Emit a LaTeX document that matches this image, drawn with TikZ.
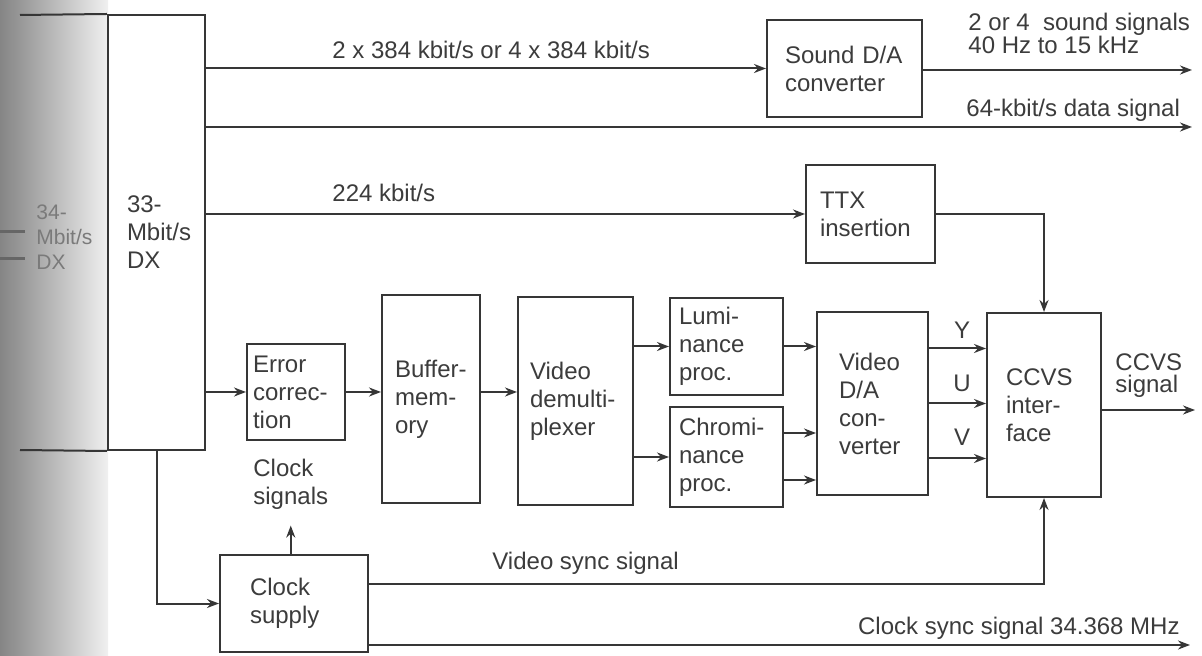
\documentclass[tikz,border=0pt]{standalone}
\usepackage{fontspec}
\setmainfont{Liberation Sans}
\usetikzlibrary{arrows.meta,calc}
\definecolor{ink}{HTML}{363636}
\definecolor{txt}{HTML}{3C3C3C}
\begin{document}
\begin{tikzpicture}[x=0.5pt,y=-0.5pt,
  blk/.style={draw=ink, line width=1pt, align=left, inner ysep=0pt, text=txt, font=\fontsize{12}{14}\selectfont},
  lbl/.style={inner sep=0pt, text=txt, font=\fontsize{12}{14}\selectfont},
  arr/.style={draw=ink, line width=1pt, -{Stealth[length=6pt,width=4.5pt]}},
  ln/.style={draw=ink, line width=1pt}]
\useasboundingbox (0,0) rectangle (1202,656);
\fill[white] (0,0) rectangle (1202,656);
\shade[left color=black!48, right color=black!6] (0,0) rectangle (108,656);

% faded neighbouring block
\node[lbl, text=black!52, anchor=west, align=left, font=\fontsize{10.5}{12.5}\selectfont] (dxold) at (36,237) {34-\\Mbit/s\\DX};
\draw[black!60, line width=1.5pt] (0,232) -- (25,232);
\draw[black!60, line width=1.5pt] (0,259) -- (25,259);

% blocks
\node[blk, minimum width=48.5pt, minimum height=217.5pt, text width=29.5pt, inner xsep=9.5pt] (dx) at (156.5,232.5) {33-\\Mbit/s\\DX};
\draw[ln] (20,15) -- (dx.north west);
\draw[ln] (20,450) -- (dx.south west);

\node[blk, minimum width=77.5pt, minimum height=48.5pt, text width=59.5pt, inner xsep=9pt] (sound) at (844.5,68.5) {Sound D/A\\converter};
\node[blk, minimum width=64.5pt, minimum height=49pt, text width=50.5pt, inner xsep=7pt] (ttx) at (870.5,214) {TTX\\insertion};
\node[blk, minimum width=49pt, minimum height=48pt, text width=43pt, inner xsep=3pt] (errc) at (296,392) {Error\\correc-\\tion};
\node[blk, minimum width=49pt, minimum height=104pt, text width=36pt, inner xsep=6.5pt] (buf) at (431,399) {Buffer-\\mem-\\ory};
\node[blk, minimum width=57.5pt, minimum height=104pt, text width=45.5pt, inner xsep=6pt] (demux) at (575.5,401) {Video\\demulti-\\plexer};
\node[blk, minimum width=56.5pt, minimum height=48.5pt, text width=47.5pt, inner xsep=4.5pt] (lum) at (726.5,346.5) {Lumi-\\nance\\proc.};
\node[blk, minimum width=56.5pt, minimum height=50pt, text width=47.5pt, inner xsep=4.5pt] (chrom) at (726.5,457) {Chromi-\\nance\\proc.};
\node[blk, minimum width=55.5pt, minimum height=91.5pt, text width=33.5pt, inner xsep=11pt] (vda) at (872.5,403.5) {Video\\D/A\\con-\\verter};
\node[blk, minimum width=57pt, minimum height=92pt, text width=38pt, inner xsep=9.5pt] (ccvs) at (1044,405) {CCVS\\inter-\\face};
\node[blk, minimum width=74pt, minimum height=48.5pt, text width=44pt, inner xsep=15pt] (clock) at (294,603.5) {Clock\\supply};

% labels
\node[lbl, anchor=west] (l384) at (332,50) {2 x 384 kbit/s or 4 x 384 kbit/s};
\node[lbl, anchor=west] (l224) at (332,193) {224 kbit/s};
\node[lbl, anchor=west, align=left] (lsnd) at (968,33.5) {2 or 4 \ sound signals\\[-2.5pt]40 Hz to 15 kHz};
\node[lbl, anchor=west] (ldata) at (966,110) {64-kbit/s data signal};
\node[lbl] (lY) at (962,330) {Y};
\node[lbl] (lU) at (962,383) {U};
\node[lbl] (lV) at (962,437) {V};
\node[lbl, anchor=west, align=left] (lccvs) at (1115,376) {CCVS\\[-3pt]signal};
\node[lbl, anchor=west, align=left] (clksig) at (253,484) {Clock\\signals};
\node[lbl, anchor=west] (lvsync) at (492,563) {Video sync signal};
\node[lbl, anchor=east] (lcsync) at (1180,628) {Clock sync signal 34.368 MHz};

% free ends
\coordinate (o1) at (1192,70);
\coordinate (o2) at (1192,127);
\coordinate (o3) at (1195,410);
\coordinate (o4) at (1190,645);

% connectors
\draw[arr] (dx.east |- sound.west) -- (sound.west);
\draw[arr] (sound.east |- o1) -- (o1);
\draw[arr] (dx.east |- o2) -- (o2);
\draw[arr] (dx.east |- ttx.west) -- (ttx.west);
\draw[arr] (ttx.east) -| (ccvs.north);
\draw[arr] (dx.east |- errc.west) -- (errc.west);
\draw[arr] (errc.east) -- (errc.east -| buf.west);
\draw[arr] (buf.east |- errc.east) -- (demux.west |- errc.east);
\draw[arr] (demux.east |- lum.west) -- (lum.west);
\draw[arr] (demux.east |- chrom.west) -- (chrom.west);
\draw[arr] (lum.east) -- (lum.east -| vda.west);
\path ($(chrom.east)+(0,-24)$) coordinate (ch1) ($(chrom.east)+(0,23)$) coordinate (ch2);
\draw[arr] (ch1) -- (ch1 -| vda.west);
\draw[arr] (ch2) -- (ch2 -| vda.west);
\path ($(vda.east)+(0,-55)$) coordinate (vy) ($(vda.east)+(0,0)$) coordinate (vu) ($(vda.east)+(0,55)$) coordinate (vv);
\draw[arr] (vy) -- (vy -| ccvs.west);
\draw[arr] (vu) -- (vu -| ccvs.west);
\draw[arr] (vv) -- (vv -| ccvs.west);
\draw[arr] (ccvs.east |- o3) -- (o3);
\draw[arr] (dx.south) |- (clock.west);
\draw[arr, shorten >=8pt] (clksig.south |- clock.north) -- (clksig.south);
\path ($(clock.east)+(0,-20)$) coordinate (vs);
\draw[arr] (vs) -| (ccvs.south);
\draw[arr] (clock.east |- o4) -- (o4);
\end{tikzpicture}
\end{document}
